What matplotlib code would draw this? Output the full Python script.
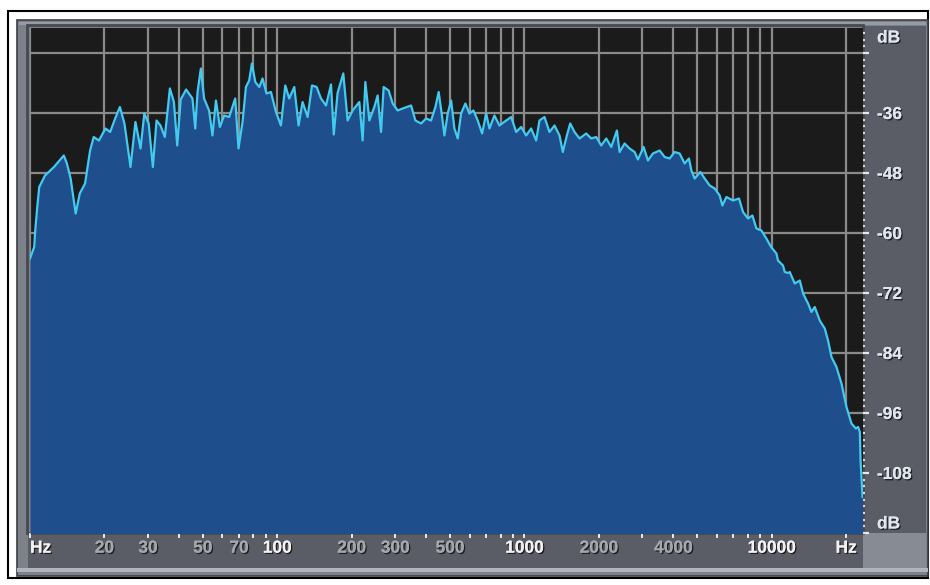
"""plot_spectrum.py

Frequency analysis of the track: level (dB) against frequency on a log axis,
drawn the way the editor's analysis window shows it.
"""
import matplotlib
matplotlib.use('Agg')
import matplotlib.pyplot as plt
import matplotlib.patheffects as pe
from matplotlib.patches import Rectangle
from matplotlib.ticker import FixedLocator, NullFormatter


colours = {'plot_bg':'#1b1b1b',
        'fill':'#1f4e8c',
        'line':'#43caf0',
        'grid':'#8a8a8a',
        'frame':'#7d8189',
        'strip':'#5a5d65',
        'corner':'#878b94',
        'bright':'#f2f2f2',
        'dim':'#a4a7ae'}


#
# Data
#

## Frequency (Hz)
freq = [10, 10.4, 10.5, 10.7, 10.9, 11.5, 12.5, 13.7, 14.1, 14.6,
        15.3, 15.9, 16.7, 17.5, 18.1, 19.0, 20.2, 21.1, 22.1, 23.1,
        24.1, 25.5, 26.7, 28.0, 29.0, 30.2, 31.4, 32.5, 33.7, 35.1,
        36.8, 38.2, 39.4, 40.7, 42.8, 45.4, 46.6, 47.6, 49.1, 50.6,
        53.0, 54.7, 56.5, 58.6, 61.0, 63.9, 67.6, 69.7, 72.4, 74.7,
        77.0, 79.0, 81.5, 84.6, 87.2, 90.5, 94.3, 98.8, 103.5, 107.8,
        111.8, 117.2, 122.0, 126.6, 132.7, 138.2, 144.3, 150.3, 157.5, 165.0,
        169.3, 175.4, 185.0, 192.6, 201.8, 214.8, 221.5, 227.2, 235.8, 247.0,
        254.7, 262.9, 269.4, 282.2, 293.0, 306.9, 321.6, 347.8, 362.1, 381.8,
        399.9, 419.0, 436.2, 449.8, 464.4, 474.4, 489.3, 505.0, 520.8, 537.0,
        554.2, 576.9, 598.8, 621.5, 647.0, 674.0, 699.7, 721.6, 755.9, 792.1,
        843.4, 883.6, 925.6, 969.7, 1016, 1064, 1115, 1150, 1205, 1262,
        1323, 1386, 1429, 1484, 1531, 1594, 1670, 1777, 1862, 1951,
        2044, 2142, 2244, 2365, 2425, 2541, 2662, 2789, 2876, 3033,
        3157, 3307, 3521, 3689, 3864, 4049, 4242, 4445, 4627, 4732,
        4880, 5145, 5356, 5612, 5879, 6160, 6317, 6557, 6973, 7375,
        7655, 8018, 8354, 8672, 9086, 9517, 9972, 10450, 10600, 11110,
        11290, 11640, 11830, 12390, 12990, 13390, 14030, 14480, 14930, 15640,
        16390, 16900, 17450, 18280, 19150, 20060, 21020, 21880, 22360, 22720,
        22870, 23300]

## Level (dB)
level = [-65.1, -62.8, -59.5, -54.8, -50.8, -48.5, -46.8, -44.5, -46.1, -49.1,
        -56.1, -52.1, -50.1, -43.5, -40.8, -41.5, -39.1, -39.8, -37.1, -34.8,
        -38.1, -46.8, -37.8, -43.1, -36.1, -38.1, -46.8, -37.5, -38.5, -40.8,
        -31.1, -33.8, -42.5, -33.3, -31.3, -33.1, -39.1, -31.8, -27.1, -33.1,
        -35.5, -40.5, -33.5, -38.8, -36.5, -36.8, -33.1, -43.1, -37.8, -30.8,
        -29.5, -26.1, -29.8, -30.8, -29.1, -32.1, -31.8, -35.8, -38.5, -30.5,
        -33.1, -30.8, -38.5, -33.8, -36.8, -30.5, -30.8, -33.1, -34.5, -30.3,
        -40.3, -32.0, -28.1, -37.5, -35.5, -33.8, -41.5, -29.8, -37.5, -34.8,
        -32.5, -39.8, -30.8, -31.5, -34.1, -35.5, -35.1, -34.5, -37.5, -38.1,
        -37.1, -37.5, -34.8, -31.8, -36.8, -40.5, -36.1, -33.5, -39.1, -41.1,
        -36.1, -34.1, -36.1, -35.5, -37.5, -40.1, -36.1, -39.1, -36.5, -38.5,
        -37.5, -36.8, -39.8, -38.8, -40.5, -39.1, -41.5, -37.5, -36.8, -39.8,
        -38.5, -40.5, -43.8, -40.5, -38.1, -39.8, -41.1, -40.1, -41.1, -40.8,
        -42.5, -41.1, -42.8, -39.5, -43.8, -42.1, -43.1, -43.8, -45.3, -42.8,
        -45.5, -44.1, -43.5, -44.8, -45.1, -43.8, -44.1, -46.1, -45.1, -47.5,
        -49.1, -47.8, -49.1, -50.5, -51.1, -52.5, -54.5, -52.8, -53.5, -53.1,
        -55.8, -57.1, -56.5, -59.1, -59.5, -61.1, -62.9, -64.1, -65.5, -66.5,
        -67.8, -68.0, -67.8, -70.1, -69.5, -72.1, -74.1, -75.8, -74.8, -77.5,
        -79.1, -81.5, -84.8, -86.8, -90.1, -94.8, -98.1, -99.1, -98.8, -99.8,
        -105.5, -112.8]

## Axis ticks
hz_ticks = [10, 20, 30, 50, 70, 100, 200, 300, 500, 1000, 2000, 4000,
        10000, 20000]
hz_labels = ['Hz', '20', '30', '50', '70', '100', '200', '300', '500',
        '1000', '2000', '4000', '10000', 'Hz']
hz_bright = ['Hz', '100', '1000', '10000']
hz_minor = [40, 60, 80, 90, 400, 600, 700, 800, 900, 3000, 5000, 6000,
        7000, 8000, 9000]
db_ticks = [-24, -36, -48, -60, -72, -84, -96, -108, -120]
db_labels = ['', '-36', '-48', '-60', '-72', '-84', '-96', '-108', '']


#
# Window frame (pixel coordinates)
#
W, H = 930, 585
fig = plt.figure(figsize=(W/100., H/100.), dpi=100)
fig.patch.set_facecolor('white')

bg = fig.add_axes([0, 0, 1, 1])
bg.set_xlim(0, W)
bg.set_ylim(H, 0)
bg.axis('off')

bg.add_patch(Rectangle((8, 11), 920, 567, fill=False, ec='black', lw=1.5))
bg.add_patch(Rectangle((17, 20), 911, 556, fc=colours['frame'],
        ec='#3c3e43', lw=1.2))
bg.add_patch(Rectangle((19, 22), 907, 3, fc='#979ba3', lw=0))
bg.add_patch(Rectangle((17, 568), 911, 4, fc='#b0b4bc', lw=0))
bg.add_patch(Rectangle((28, 533), 835, 35, fc=colours['strip'], lw=0))
bg.add_patch(Rectangle((863, 26), 63, 507, fc=colours['strip'], lw=0))
bg.add_patch(Rectangle((863, 533), 63, 35, fc=colours['corner'], lw=0))
bg.add_patch(Rectangle((27, 25), 836, 508, fill=False, ec='#46494f', lw=2))

shadow = [pe.withSimplePatchShadow(offset=(1, -1), shadow_rgbFace='#1a1a1a',
        alpha=0.9), pe.Normal()]
for y in (38, 524):
    t = bg.text(877, y, 'dB', ha='left', va='center', fontsize=12.5,
            fontweight='bold', family='Liberation Sans', color='#dfe6f0')
    t.set_path_effects(shadow)


#
# Spectrum
#
ax = fig.add_axes([30./W, 1 - 533./H, 833./W, 505./H])
ax.set_facecolor(colours['plot_bg'])
ax.set_xscale('log')
ax.set_xlim(10, 23400)
ax.set_ylim(-120, -19)

ax.fill_between(freq, level, -130, color=colours['fill'], lw=0, zorder=2)
ax.plot(freq, level, '-', color=colours['line'], lw=1.6, zorder=3)

for s in ax.spines.values():
    s.set_visible(False)

## Frequency axis
ax.xaxis.set_major_locator(FixedLocator(hz_ticks))
ax.set_xticklabels(hz_labels)
ax.xaxis.set_minor_locator(FixedLocator(hz_minor))
ax.xaxis.set_minor_formatter(NullFormatter())
ax.tick_params(axis='x', which='both', direction='out', length=3.5, width=1.4,
        color='#e8e8e8', pad=2)
for lab in ax.get_xticklabels():
    lab.set_family('Liberation Sans')
    lab.set_fontweight('bold')
    lab.set_fontsize(12.5)
    lab.set_path_effects(shadow)
    if lab.get_text() in hz_bright:
        lab.set_color(colours['bright'])
    else:
        lab.set_color(colours['dim'])
ax.get_xticklabels()[0].set_ha('left')

## Level axis
ax.yaxis.tick_right()
ax.yaxis.set_major_locator(FixedLocator(db_ticks))
ax.set_yticklabels(db_labels)
ax.yaxis.set_minor_locator(FixedLocator(
        [-120 + i*4./3 for i in range(76)]))
ax.yaxis.set_minor_formatter(NullFormatter())
ax.tick_params(axis='y', which='major', direction='out', length=4, width=1.6,
        color='#e8e8e8', pad=6)
ax.tick_params(axis='y', which='minor', direction='out', length=1.6,
        width=1.6, color='#d8d8d8')
for lab in ax.get_yticklabels():
    lab.set_family('Liberation Sans')
    lab.set_fontweight('bold')
    lab.set_fontsize(12.5)
    lab.set_color('#dfe6f0')
    lab.set_path_effects(shadow)

## Grid sits under the spectrum
ax.set_axisbelow(True)
ax.grid(True, which='both', axis='x', color=colours['grid'], lw=1.6)
ax.grid(True, which='major', axis='y', color=colours['grid'], lw=1.6)

plt.savefig('out.png', dpi=100)
